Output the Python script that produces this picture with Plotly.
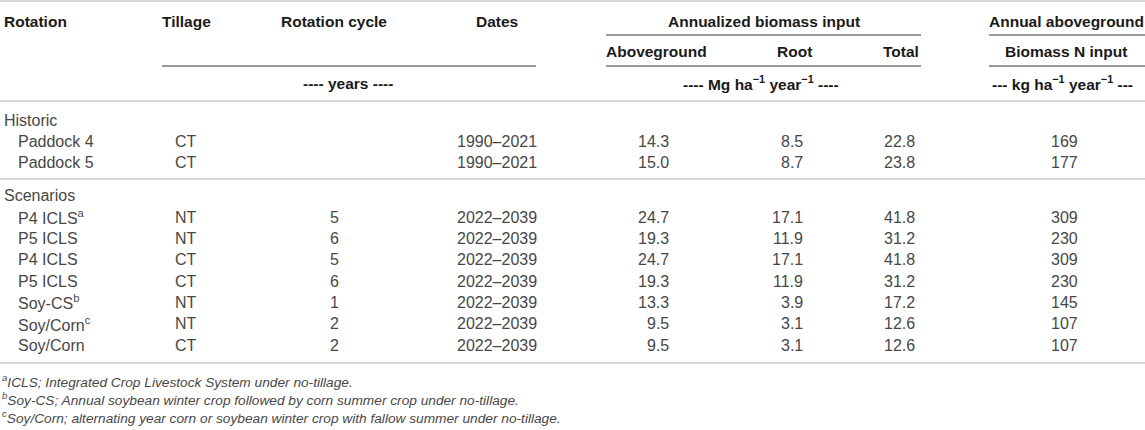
import plotly.graph_objects as go

# table contents
groups = ["Historic", "Scenarios"]
rotation = ["Paddock 4", "Paddock 5",
            "P4 ICLS<sup>a</sup>", "P5 ICLS", "P4 ICLS", "P5 ICLS",
            "Soy-CS<sup>b</sup>", "Soy/Corn<sup>c</sup>", "Soy/Corn"]
group_of_row = [0, 0, 1, 1, 1, 1, 1, 1, 1]
tillage = ["CT", "CT", "NT", "NT", "CT", "CT", "NT", "NT", "CT"]
cycle = ["", "", "5", "6", "5", "6", "1", "2", "2"]
dates = ["1990–2021", "1990–2021", "2022–2039", "2022–2039", "2022–2039",
         "2022–2039", "2022–2039", "2022–2039", "2022–2039"]
aboveground = [14.3, 15.0, 24.7, 19.3, 24.7, 19.3, 13.3, 9.5, 9.5]
root = [8.5, 8.7, 17.1, 11.9, 17.1, 11.9, 3.9, 3.1, 3.1]
total = [22.8, 23.8, 41.8, 31.2, 41.8, 31.2, 17.2, 12.6, 12.6]
n_input = [169, 177, 309, 230, 309, 230, 145, 107, 107]

footnotes = [
    "<sup>a</sup>ICLS; Integrated Crop Livestock System under no-tillage.",
    "<sup>b</sup>Soy-CS; Annual soybean winter crop followed by corn summer crop under no-tillage.",
    "<sup>c</sup>Soy/Corn; alternating year corn or soybean winter crop with fallow summer under no-tillage.",
]

W, H = 1145, 430
HEAD = dict(family="Liberation Sans", size=15.5, color="#1a1a1a", weight="bold")
BODY = dict(family="Liberation Sans", size=16, color="#474747")
NOTE = dict(family="Liberation Sans", size=13.7, color="#474747", style="italic")

# column positions (pixels across the page)
x_rot, x_indent = 2, 16
x_till, x_cyc, x_date = 186, 334, 497
x_above, x_root, x_total, x_n = 656, 794, 901, 1066
# numbers are right aligned under their headers
r_above, r_root, r_total, r_n = 671, 805, 917, 1080

fig = go.Figure()
ann = []


def txt(x, y, s, font, anchor="center"):
    ann.append(dict(x=x, y=y, text=s, font=font, xanchor=anchor, yanchor="middle",
                    showarrow=False, xref="x", yref="y"))


def hline(x0, x1, y, color, w=2):
    fig.add_shape(type="line", x0=x0, x1=x1, y0=y, y1=y, xref="x", yref="y",
                  line=dict(color=color, width=w))


# header
txt(x_rot, 21, "Rotation", HEAD, "left")
txt(x_till, 21, "Tillage", HEAD)
txt(x_cyc, 21, "Rotation cycle", HEAD)
txt(x_date, 21, "Dates", HEAD)
txt(764, 21, "Annualized biomass input", HEAD)
txt(x_n, 21, "Annual aboveground", HEAD)
txt(x_above, 51, "Aboveground", HEAD)
txt(x_root, 51, "Root", HEAD)
txt(x_total, 51, "Total", HEAD)
txt(x_n, 51, "Biomass N input", HEAD)
txt(348, 83, "---- years ----", HEAD)
txt(761, 83, "---- Mg ha<sup>−1</sup> year<sup>−1</sup> ----", HEAD)
txt(1062, 83, "--- kg ha<sup>−1</sup> year<sup>−1</sup> ---", HEAD)

hline(0, W, 1, "#d6d6d6")
hline(606, 921, 35, "#9a9a9a")
hline(989, W, 35, "#9a9a9a")
hline(162, 536, 66, "#9a9a9a")
hline(606, 921, 66, "#9a9a9a")
hline(989, W, 66, "#9a9a9a")
hline(0, W, 101, "#d6d6d6")

# body rows
step = 21.3
y_group = [120, 120 + 3 * step + 12]
for g, name in enumerate(groups):
    txt(x_rot, y_group[g], name, BODY, "left")
for i in range(len(rotation)):
    k = i + 1 + group_of_row[i]
    y = 120 + k * step + (12 if group_of_row[i] else 0)
    txt(x_indent, y, rotation[i], BODY, "left")
    txt(x_till, y, tillage[i], BODY)
    if cycle[i]:
        txt(x_cyc, y, cycle[i], BODY)
    txt(x_date, y, dates[i], BODY)
    txt(r_above, y, f"{aboveground[i]:.1f}", BODY, "right")
    txt(r_root, y, f"{root[i]:.1f}", BODY, "right")
    txt(r_total, y, f"{total[i]:.1f}", BODY, "right")
    txt(r_n, y, str(n_input[i]), BODY, "right")

hline(0, W, 179, "#d6d6d6")
hline(0, W, 363, "#d6d6d6")

for j, note in enumerate(footnotes):
    txt(0, 381 + j * 18, note, NOTE, "left")

fig.update_layout(
    annotations=ann,
    width=W, height=H,
    margin=dict(l=0, r=0, t=0, b=0),
    paper_bgcolor="white", plot_bgcolor="white",
    xaxis=dict(range=[0, W], visible=False, fixedrange=True),
    yaxis=dict(range=[H, 0], visible=False, fixedrange=True),
    showlegend=False,
)
fig.write_html("out.html", config={"displayModeBar": False},
               post_script="document.body.style.margin='0';"
                           "document.body.style.overflow='hidden';")
